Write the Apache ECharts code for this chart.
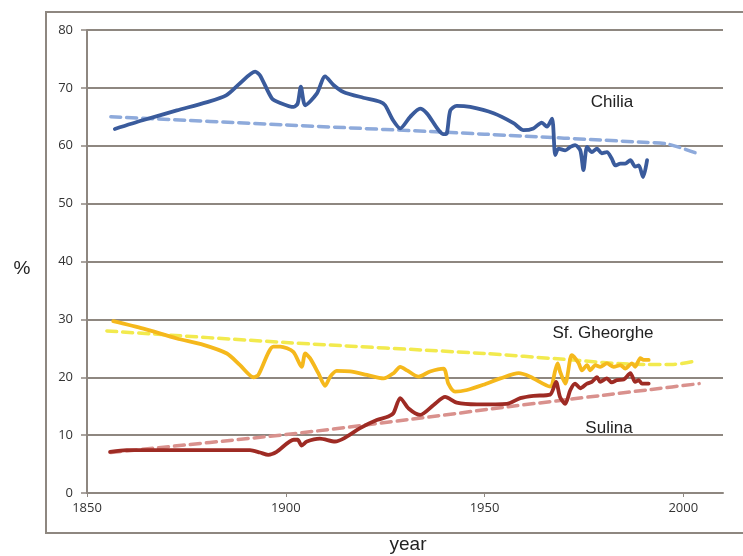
<!DOCTYPE html>
<html>
<head>
<meta charset="utf-8">
<script src="https://cdn.jsdelivr.net/npm/echarts@6/dist/echarts.min.js"></script>
<style>html,body{margin:0;padding:0;background:#fff}#c{width:743px;height:556px}</style>
</head>
<body>
<div id="c"></div>
<script>
const xTicks = [1850, 1900, 1950, 2000];
const yTicks = [0, 10, 20, 30, 40, 50, 60, 70, 80];

const chiliaYears = [1857,1864,1872.6,1880,1885,1888.5,1892.3,1893.5,1896.5,1898.6,1902,1903,1903.8,1904.9,1907.8,1909.9,1912,1914.5,1919.5,1923.7,1925,1927,1928.8,1931.3,1933.8,1935.5,1939.7,1940.5,1941.4,1943,1946.4,1952.3,1957.3,1959.8,1962.3,1964.4,1965.7,1967,1967.8,1968.6,1970.3,1971.6,1972.8,1974.1,1974.9,1975.8,1977,1978.3,1979.5,1980.8,1982,1982.9,1984.2,1985.4,1986.7,1987.9,1988.8,1989.9,1990.9];
const chiliaVals = [62.9,64.4,66.1,67.5,68.7,70.8,72.8,72.2,68.2,67.4,66.7,67.3,70.2,67.0,69.0,72.0,70.5,69.3,68.3,67.6,67.0,64.4,63.0,65.0,66.4,65.6,62.0,62.1,66.1,66.9,66.7,65.6,63.9,62.7,63.0,64.0,63.3,64.7,58.4,59.5,59.2,59.8,60.1,59.2,55.8,59.8,58.9,59.5,58.7,58.9,57.8,56.6,56.9,56.9,57.5,56.4,56.6,54.6,57.5];

const gheorgheYears = [1856.6,1864.2,1872.6,1879.3,1885.2,1888.5,1891.9,1893.1,1896.9,1898.6,1901.9,1904,1904.9,1906.1,1908.2,1909.9,1911.2,1912.8,1916.2,1920.4,1924.6,1927.1,1928.8,1930.5,1933.4,1936.3,1939.7,1940.9,1942.6,1945.6,1949.7,1954,1958.6,1961.5,1966.5,1967.8,1968.4,1969,1970.3,1971.6,1972,1973.7,1974.5,1975.8,1976.6,1977.9,1979.1,1980.8,1982.5,1984.2,1985.4,1987.1,1987.9,1989.2,1990,1991.3];
const gheorgheVals = [29.7,28.4,26.7,25.6,24.1,22.1,20.0,20.4,25.3,25.3,24.4,21.8,24.1,23.3,20.7,18.5,20.1,21.1,21.0,20.4,19.8,20.7,21.8,21.2,20.1,21.0,21.5,18.9,17.5,17.8,18.7,19.8,20.7,20.1,18.4,21.2,22.4,21.0,18.9,23.3,23.8,22.4,21.2,22.1,21.2,22.1,21.8,22.4,21.8,22.1,21.5,22.4,21.8,23.3,23.0,23.0];

const sulinaYears = [1855.8,1860,1868.4,1876.8,1885.2,1891,1893.5,1895.6,1897.7,1902,1903,1904,1905.3,1908.6,1912.4,1914.5,1918.7,1922.9,1925.8,1927.1,1928.8,1930.9,1933.8,1937.2,1940.1,1943,1948.1,1955.6,1959,1962.3,1966.5,1968,1969,1970.3,1971.6,1972.8,1974.1,1975.8,1977,1978.3,1979.1,1980.8,1982,1983.3,1985,1986.7,1987.9,1988.8,1989.6,1991.3];
const sulinaVals = [7.1,7.4,7.4,7.4,7.4,7.4,7.0,6.6,7.1,9.2,9.2,8.2,8.9,9.4,8.9,9.4,11.2,12.6,13.2,13.8,16.4,14.6,13.5,15.2,16.6,15.6,15.3,15.4,16.4,16.8,17.0,19.2,16.6,15.4,17.8,18.9,18.1,18.9,19.2,20.0,19.2,19.8,19.1,19.5,19.6,20.7,19.2,19.5,18.9,18.9];

const chiliaTrendYears = [1856, 1900, 1950, 1990, 1996, 2003];
const chiliaTrendVals = [65.0, 63.6, 62.0, 60.6, 60.3, 58.8];
const gheorgheTrendYears = [1855, 1900, 1950, 1970, 1990, 1997, 2003];
const gheorgheTrendVals = [28.0, 26.0, 24.1, 23.1, 22.2, 22.2, 22.8];
const sulinaTrendYears = [1856, 1900, 1930, 1956, 1980, 1992, 2004];
const sulinaTrendVals = [7.0, 10.1, 12.6, 14.9, 16.9, 17.9, 18.9];

const seriesLabels = ['Chilia', 'Sf. Gheorghe', 'Sulina'];

function pairs(xs, ys) { return xs.map((x, i) => [x, ys[i]]); }

const gridCol = '#8e8780';
const chart = echarts.init(document.getElementById('c'), null, {renderer: 'canvas'});

function lineSeries(name, xs, ys, color, dashed, width) {
  return {
    name: name,
    type: 'line',
    data: pairs(xs, ys),
    showSymbol: false,
    symbol: 'none',
    smooth: dashed ? 0.3 : 0.25,
    z: dashed ? 2 : 3,
    lineStyle: {color: color, width: width, type: dashed ? [10, 6] : 'solid', cap: 'round', join: 'round'},
    itemStyle: {color: color},
    silent: true
  };
}

chart.setOption({
  animation: false,
  backgroundColor: '#ffffff',
  grid: {left: 87, right: 20, top: 30, bottom: 63, containLabel: false},
  xAxis: {
    type: 'value', min: 1850, max: 2010, interval: 50,
    axisLine: {show: true, lineStyle: {color: gridCol, width: 2}},
    axisTick: {show: true, length: 4, customValues: xTicks, lineStyle: {color: gridCol, width: 1}},
    axisLabel: {customValues: xTicks, margin: 9, color: '#333', fontSize: 13, fontFamily: 'Open Sans',
      formatter: v => String(v)},
    splitLine: {show: false}
  },
  yAxis: {
    type: 'value', min: 0, max: 80, interval: 10,
    axisLine: {show: true, lineStyle: {color: gridCol, width: 2}},
    axisTick: {show: true, length: 6, lineStyle: {color: gridCol, width: 1.5}},
    axisLabel: {margin: 14, color: '#333', fontSize: 13, fontFamily: 'Open Sans',
      formatter: v => yTicks.includes(v) ? String(v) : ''},
    splitLine: {show: true, lineStyle: {color: gridCol, width: 2}}
  },
  series: [
    lineSeries('Chilia trend', chiliaTrendYears, chiliaTrendVals, '#8eaadb', true, 3.5),
    lineSeries('Sf. Gheorghe trend', gheorgheTrendYears, gheorgheTrendVals, '#f2ea4e', true, 3.5),
    lineSeries('Sulina trend', sulinaTrendYears, sulinaTrendVals, '#d9918d', true, 3.5),
    lineSeries('Chilia', chiliaYears, chiliaVals, '#3a5b9c', false, 3.8),
    lineSeries('Sf. Gheorghe', gheorgheYears, gheorgheVals, '#f5b81c', false, 3.8),
    lineSeries('Sulina', sulinaYears, sulinaVals, '#9e2b24', false, 3.8)
  ],
  graphic: [
    {type: 'rect', shape: {x: 46, y: 12, width: 720, height: 521}, style: {fill: 'none', stroke: gridCol, lineWidth: 2}, silent: true, z: 0},
    {type: 'text', x: 612, y: 102, style: {text: seriesLabels[0], fill: '#222', font: '17px "Liberation Sans", Arial, sans-serif', textAlign: 'center', textVerticalAlign: 'middle'}},
    {type: 'text', x: 603, y: 333, style: {text: seriesLabels[1], fill: '#222', font: '17px "Liberation Sans", Arial, sans-serif', textAlign: 'center', textVerticalAlign: 'middle'}},
    {type: 'text', x: 609, y: 428, style: {text: seriesLabels[2], fill: '#222', font: '17px "Liberation Sans", Arial, sans-serif', textAlign: 'center', textVerticalAlign: 'middle'}},
    {type: 'text', x: 22, y: 269, style: {text: '%', fill: '#222', font: '19px "Liberation Sans", Arial, sans-serif', textAlign: 'center', textVerticalAlign: 'middle'}},
    {type: 'text', x: 408, y: 545, style: {text: 'year', fill: '#222', font: '19px "Liberation Sans", Arial, sans-serif', textAlign: 'center', textVerticalAlign: 'middle'}}
  ]
});
</script>
</body>
</html>
